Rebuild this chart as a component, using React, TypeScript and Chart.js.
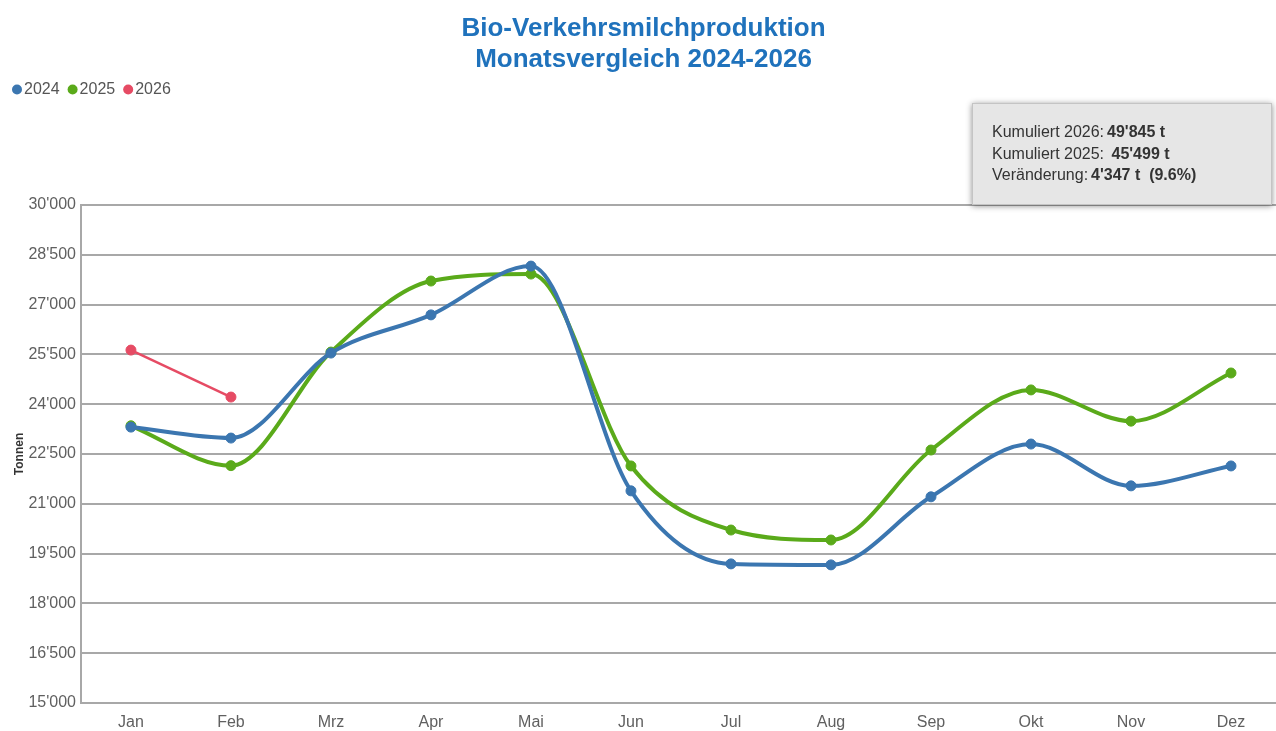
import React, { useEffect, useRef } from "react";
import { Chart, registerables } from "chart.js";

Chart.register(...registerables);

const months = ["Jan", "Feb", "Mrz", "Apr", "Mai", "Jun", "Jul", "Aug", "Sep", "Okt", "Nov", "Dez"];
const values2024 = [23310, 22980, 25540, 26690, 28160, 21390, 19190, 19160, 21210, 22800, 21540, 22140];
const values2025 = [23350, 22149, 25570, 27710, 27920, 22140, 20210, 19910, 22620, 24430, 23490, 24940];
const values2026 = [25630, 24215];
const seriesLabels = ["2024", "2025", "2026"];
const seriesColors = ["#3b76b0", "#5aaa1a", "#e64b64"];
const yMin = 15000;
const yMax = 30000;
const yStep = 1500;
const titleLines = ["Bio-Verkehrsmilchproduktion", "Monatsvergleich 2024-2026"];
const yTitle = "Tonnen";
const infoLabels = ["Kumuliert 2026:", "Kumuliert 2025: ", "Veränderung:"];
const infoValues = ["49'845 t", "45'499 t", "4'347 t  (9.6%)"];

const FONT = "'Liberation Sans', Arial, sans-serif";

function fmt(v: number): string {
  return String(Math.round(v)).replace(/\B(?=(\d{3})+(?!\d))/g, "'");
}

const extrasPlugin = {
  id: "extras",
  afterDraw(chart: any) {
    const ctx = chart.ctx as CanvasRenderingContext2D;
    const ca = chart.chartArea;
    ctx.save();
    // custom legend
    ctx.font = `16px ${FONT}`;
    ctx.textBaseline = "middle";
    let x = 12;
    const ly = 89.5;
    chart.data.datasets.forEach((ds: any) => {
      ctx.fillStyle = ds.borderColor;
      ctx.beginPath();
      ctx.arc(x + 5, ly, 5, 0, Math.PI * 2);
      ctx.fill();
      ctx.fillStyle = "#555";
      ctx.textAlign = "left";
      ctx.fillText(ds.label, x + 12, ly);
      x += 12 + ctx.measureText(ds.label).width + 8;
    });
    // info box
    const bw = 300;
    const bx = 972;
    const by = 103;
    const bh = ca.top - by;
    ctx.shadowColor = "rgba(0,0,0,0.45)";
    ctx.shadowBlur = 6;
    ctx.shadowOffsetX = 0;
    ctx.shadowOffsetY = 1;
    ctx.fillStyle = "#e6e6e6";
    ctx.fillRect(bx, by, bw, bh);
    ctx.shadowColor = "transparent";
    ctx.strokeStyle = "#c4c4c4";
    ctx.lineWidth = 1;
    ctx.strokeRect(bx + 0.5, by + 0.5, bw - 1, bh - 1);
    for (let i = 0; i < infoLabels.length; i++) {
      const ty = by + 30 + i * 21.5;
      ctx.font = `16px ${FONT}`;
      ctx.fillStyle = "#333";
      ctx.fillText(infoLabels[i], bx + 20, ty);
      const w = ctx.measureText(infoLabels[i]).width;
      ctx.font = `bold 16px ${FONT}`;
      ctx.fillText(infoValues[i], bx + 20 + w + 3, ty);
    }
    ctx.restore();
  },
};

export default function App() {
  const ref = useRef<HTMLCanvasElement | null>(null);
  useEffect(() => {
    if (!ref.current) return;
    Chart.defaults.font.family = FONT;
    const common = {
      pointRadius: 5,
      pointBorderWidth: 1,
      cubicInterpolationMode: "monotone" as const,
    };
    const chart = new Chart(ref.current, {
      type: "line",
      data: {
        labels: months,
        datasets: [
          {
            label: seriesLabels[0],
            data: values2024,
            borderColor: seriesColors[0],
            backgroundColor: seriesColors[0],
            borderWidth: 4,
            ...common,
          },
          {
            label: seriesLabels[1],
            data: values2025,
            borderColor: seriesColors[1],
            backgroundColor: seriesColors[1],
            borderWidth: 4,
            ...common,
          },
          {
            label: seriesLabels[2],
            data: values2026,
            borderColor: seriesColors[2],
            backgroundColor: seriesColors[2],
            borderWidth: 2.5,
            ...common,
          },
        ],
      },
      options: {
        animation: false,
        responsive: false,
        layout: { padding: 0 },
        plugins: {
          legend: { display: false },
          tooltip: { enabled: false },
          title: {
            display: true,
            text: titleLines,
            color: "#1f72bc",
            font: { size: 26, weight: "bold", family: FONT, lineHeight: 1.2 },
            padding: { top: 13, bottom: 129.6 },
          },
        },
        scales: {
          x: {
            offset: true,
            grid: { display: false, drawTicks: false, tickLength: 0 },
            border: { display: true, color: "#a8a8a8", width: 2 },
            ticks: { color: "#606060", font: { size: 16 }, padding: 10, maxRotation: 0 },
            afterFit: (scale: any) => {
              scale.height = 28;
            },
          },
          y: {
            min: yMin,
            max: yMax,
            grid: { color: "#a8a8a8", lineWidth: 2, drawTicks: false },
            border: { display: true, color: "#a8a8a8", width: 2 },
            ticks: {
              stepSize: yStep,
              color: "#606060",
              font: { size: 16 },
              padding: 5,
              callback: (v: any) => fmt(Number(v)),
            },
            title: {
              display: true,
              text: yTitle,
              color: "#333",
              font: { size: 12, weight: "bold" },
              padding: { top: 12, bottom: -3 },
            },
          },
        },
      },
      plugins: [extrasPlugin],
    });
    return () => chart.destroy();
  }, []);
  return (
    <div style={{ position: "fixed", left: 0, top: 0, width: 1276, height: 731, overflow: "hidden", background: "#fff" }}>
      <canvas ref={ref} width={1287} height={731} style={{ display: "block" }} />
    </div>
  );
}
